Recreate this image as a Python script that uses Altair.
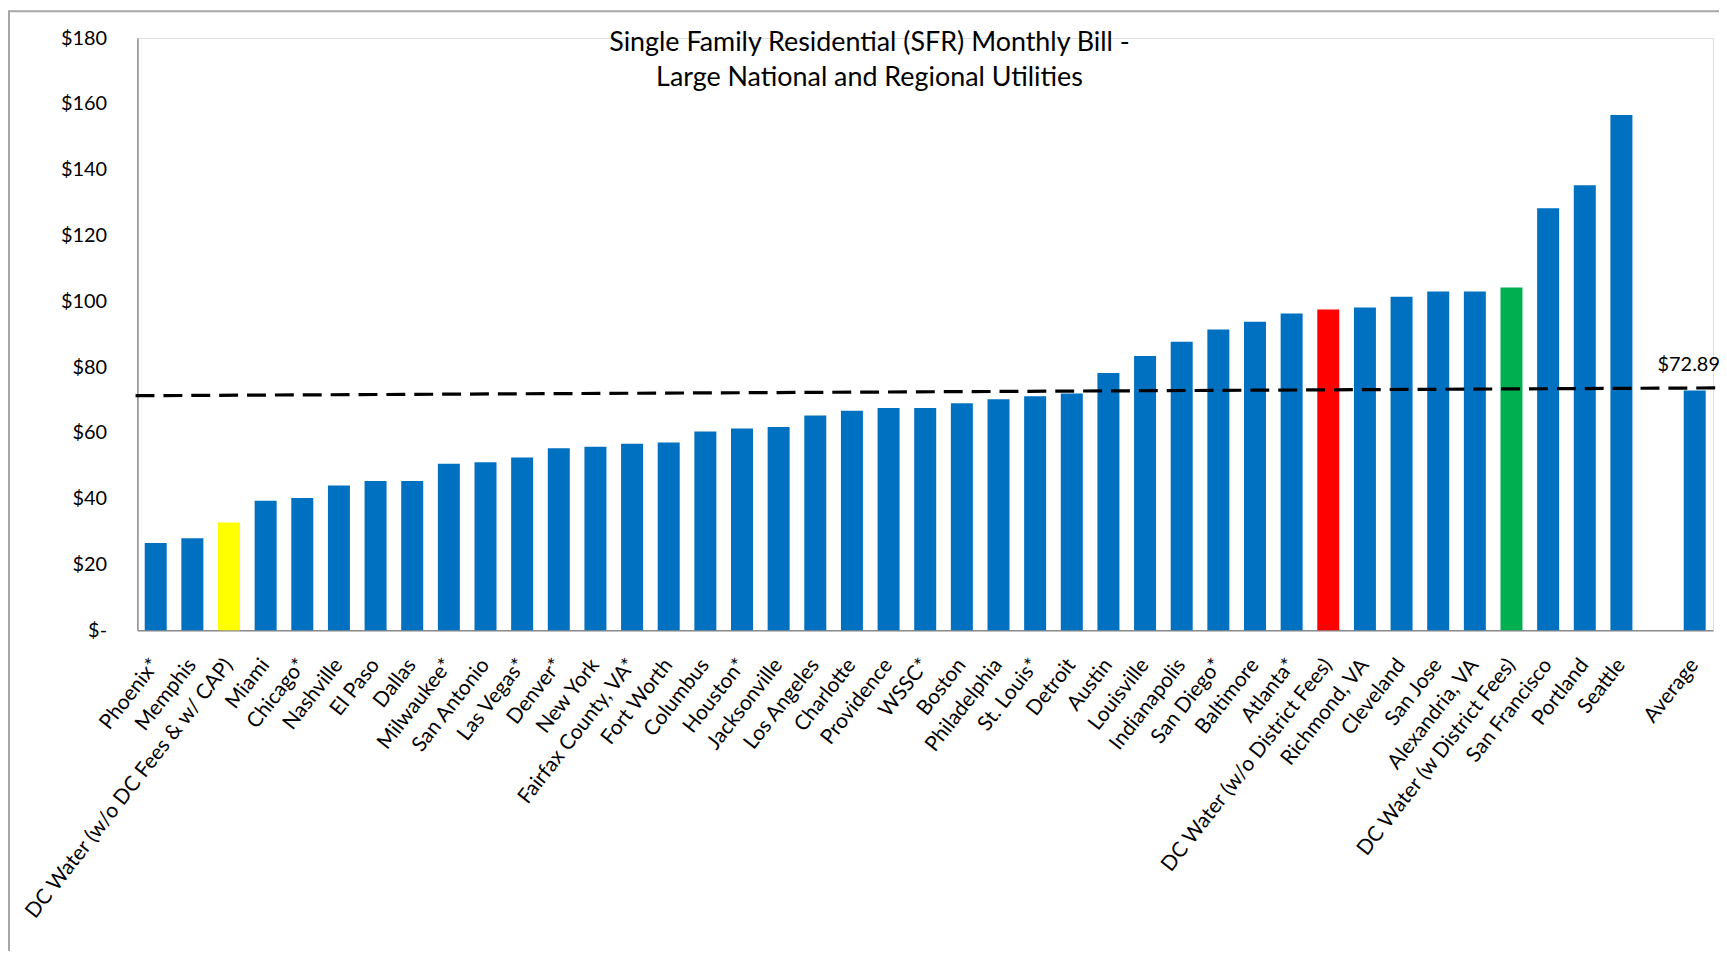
import altair as alt
import pandas as pd

# ---- data ----
cities = ["Phoenix*", "Memphis", "DC Water (w/o DC Fees & w/ CAP)", "Miami", "Chicago*",
          "Nashville", "El Paso", "Dallas", "Milwaukee*", "San Antonio", "Las Vegas*",
          "Denver*", "New York", "Fairfax County, VA*", "Fort Worth", "Columbus",
          "Houston*", "Jacksonville", "Los Angeles", "Charlotte", "Providence", "WSSC*",
          "Boston", "Philadelphia", "St. Louis*", "Detroit", "Austin", "Louisville",
          "Indianapolis", "San Diego*", "Baltimore", "Atlanta*",
          "DC Water (w/o District Fees)", "Richmond, VA", "Cleveland", "San Jose",
          "Alexandria, VA", "DC Water (w District Fees)", "San Francisco", "Portland",
          "Seattle", "Average"]
bills = [26.5, 28.0, 32.8, 39.4, 40.2, 44.0, 45.4, 45.4, 50.6, 51.1, 52.5,
         55.3, 55.8, 56.7, 57.1, 60.4, 61.3, 61.8, 65.3, 66.7, 67.6, 67.6,
         69.0, 70.2, 71.1, 72.0, 78.2, 83.4, 87.7, 91.4, 93.8, 96.3,
         97.5, 98.1, 101.4, 103.0, 103.0, 104.2, 128.3, 135.3, 156.6, 72.89]
groups = ["other", "other", "dc_cap", "other", "other", "other", "other", "other",
          "other", "other", "other", "other", "other", "other", "other", "other",
          "other", "other", "other", "other", "other", "other", "other", "other",
          "other", "other", "other", "other", "other", "other", "other", "other",
          "dc_wo", "other", "other", "other", "other", "dc_w", "other", "other",
          "other", "other"]
group_names = ["other", "dc_cap", "dc_wo", "dc_w"]
group_colors = ["#0070C0", "#FFFF00", "#FF0000", "#00B050"]

# category order, with the empty slot before "Average"
axis_order = cities[:-1] + [" "] + cities[-1:]

# dashed average line (slightly tilted in the reference): slot position, value
dash_pos = [-0.05, 43.6]
dash_val = [71.3, 73.7]

average_value = 72.89
y_ticks = [0, 20, 40, 60, 80, 100, 120, 140, 160, 180]
title_lines = ["Single Family Residential (SFR) Monthly Bill -",
               "Large National and Regional Utilities"]

FONT = "Lato"

df = pd.DataFrame({"city": cities, "bill": bills, "group": groups})
avg_df = pd.DataFrame({"city": ["Average"], "bill": [average_value],
                       "label": ["$" + format(average_value, ".2f")]})
dash_df = pd.DataFrame({"pos": dash_pos, "val": dash_val})

x_scale = alt.Scale(domain=axis_order, paddingInner=0.4, paddingOuter=0.2)
y_scale = alt.Scale(domain=[0, 180], nice=False)

bars = alt.Chart(df).mark_bar().encode(
    x=alt.X("city:N", sort=axis_order, scale=x_scale, title=None,
            axis=alt.Axis(labelAngle=-52, labelAlign="right", labelBaseline="middle",
                          labelFont=FONT, labelFontSize=21, labelColor="#000000",
                          labelPadding=31, labelLimit=0, ticks=False,
                          domainColor="#8c8c8c", domainWidth=1.5, labelOverlap=False)),
    y=alt.Y("bill:Q", scale=y_scale, title=None,
            axis=alt.Axis(values=y_ticks, grid=False, ticks=False,
                          labelExpr="datum.value == 0 ? '$-' : '$' + datum.value",
                          labelFont=FONT, labelFontSize=20, labelColor="#000000",
                          labelPadding=31, domainColor="#8c8c8c", domainWidth=1.5)),
    color=alt.Color("group:N", scale=alt.Scale(domain=group_names, range=group_colors),
                    legend=None),
)

avg_text = alt.Chart(avg_df).mark_text(
    font=FONT, fontSize=20, color="#000000", baseline="middle", align="center",
    dy=-26, dx=-6
).encode(
    x=alt.X("city:N", sort=axis_order, scale=x_scale),
    y=alt.Y("bill:Q", scale=y_scale),
    text="label:N",
)

dash_line = alt.Chart(dash_df).mark_line(
    color="#000000", strokeWidth=3.2, strokeDash=[19, 9], clip=False
).encode(
    x=alt.X("pos:Q", scale=alt.Scale(domain=[0, len(axis_order)], nice=False, zero=False),
            axis=None),
    y=alt.Y("val:Q", scale=y_scale),
)

# slide frame lines (decoration at the left and top edges of the picture)
frame_left = alt.Chart().mark_rule(color="#a6a6a6", strokeWidth=2, clip=False).encode(
    x=alt.value(-129), y=alt.value(-28), y2=alt.value(930)
)
frame_top = alt.Chart().mark_rule(color="#a6a6a6", strokeWidth=2, clip=False).encode(
    x=alt.value(-129), x2=alt.value(1589), y=alt.value(-27)
)

chart = alt.layer(alt.layer(bars, avg_text), dash_line, frame_left, frame_top).resolve_scale(
    x="independent"
).properties(
    width=1583,
    height=595,
    padding={"left": 130, "top": 28, "right": 6, "bottom": 320},
    autosize=alt.AutoSizeParams(type="none"),
    title=alt.TitleParams(text=title_lines, anchor="middle", dx=-56, dy=87,
                          font=FONT, fontSize=27, fontWeight="normal",
                          color="#000000", lineHeight=35, baseline="top"),
).configure_view(stroke=None).configure(background="#ffffff")

chart.save("out.html", embed_options={"renderer": "svg", "actions": False})
